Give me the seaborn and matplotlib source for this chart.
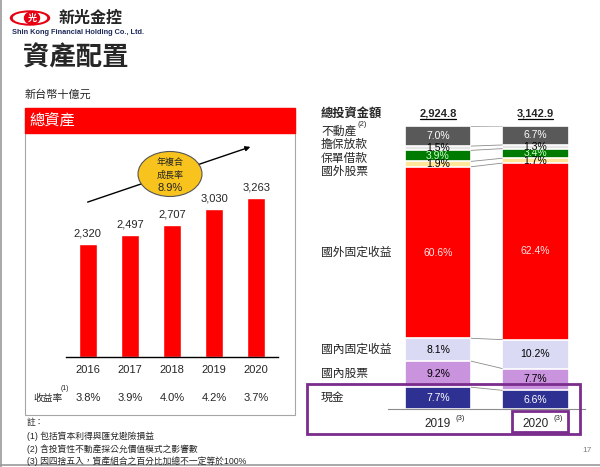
import matplotlib
matplotlib.use("Agg")
import matplotlib.pyplot as plt
import matplotlib.transforms as mtrans
from matplotlib.patches import Rectangle, Ellipse, FancyArrowPatch
from matplotlib.lines import Line2D
import numpy as np
import seaborn as sns

# total assets (NT$ bn)
years = ['2016', '2017', '2018', '2019', '2020']
total_assets = [2320, 2497, 2707, 3030, 3263]
yields = [3.8, 3.9, 4.0, 4.2, 3.7]
cagr = 8.9

# asset allocation, bottom to top
alloc_years = ['2019', '2020']
invest_totals = [2924.8, 3142.9]
categories = ['現金', '國內股票', '國內固定收益', '國外固定收益', '國外股票', '保單借款', '擔保放款', '不動產']
alloc_2019 = [7.7, 9.2, 8.1, 60.6, 1.9, 3.9, 1.5, 7.0]
alloc_2020 = [6.6, 7.7, 10.2, 62.4, 1.7, 3.4, 1.3, 6.7]
seg_colors = ['#2e3192', '#c993de', '#dadaf4', '#ff0000', '#ffe699', '#007a00', '#e6e6e6', '#595959']
txt_colors = ['white', 'black', 'black', '#ffe4e4', 'black', '#ccffcc', 'black', 'white']

sns.set_style('white')
plt.rcParams['font.family'] = ['Liberation Sans', 'Noto Sans CJK TC']

fig = plt.figure(figsize=(6, 4.67), dpi=100)
W, H = 600, 467
fx = lambda x: x / W
fy = lambda y: 1 - y / H

# slide frame
fig.add_artist(Line2D([fx(1), fx(1)], [0, 1], color='#9a9a9a', lw=1.2))
fig.add_artist(Line2D([0, 1], [fy(465), fy(465)], color='#9a9a9a', lw=1.2))

# logo
fig.add_artist(Ellipse((fx(30), fy(18)), 39 / W, 14 / H, color='#e60012'))
fig.add_artist(Ellipse((fx(30), fy(18)), 33 / W, 10 / H, color='white'))
fig.add_artist(Ellipse((fx(32), fy(18)), 15 / W, 12 / H, color='#e60012'))
fig.text(fx(32), fy(18), '光', color='white', fontsize=6.5, fontweight='bold', ha='center', va='center')
fig.text(fx(59), fy(18), '新光金控', fontsize=11.5, fontweight='bold', ha='left', va='center')
fig.text(fx(12), fy(33), 'Shin Kong Financial Holding Co., Ltd.', fontsize=5.3, fontweight='bold',
         color='#1f2a5a', ha='left', va='center')

fig.text(fx(23), fy(58), '資產配置', fontsize=19, fontweight='bold', ha='left', va='center')
fig.text(fx(25), fy(95), '新台幣十億元', fontsize=8, ha='left', va='center')

# left panel
fig.add_artist(Rectangle((fx(25), fy(415)), 270 / W, 307 / H, fill=False, edgecolor='#a6a6a6', lw=0.8))
fig.add_artist(Rectangle((fx(25), fy(133)), 270 / W, 25 / H, color='#ff0000'))
fig.text(fx(29), fy(121), '總資產', color='white', fontsize=11, ha='left', va='center')

ax1 = fig.add_axes([fx(66), fy(357), (278 - 66) / W, (357 - 140) / H])
sns.barplot(x=years, y=total_assets, color='#ff0000', width=0.43, saturation=1, ax=ax1)
ax1.set_ylim(0, 217 / (159 / 3263))
ax1.set_xlim(-0.52, 4.52)
ax1.bar_label(ax1.containers[0], labels=[f'{v:,}' for v in total_assets], fontsize=8, padding=4)
for s in ['top', 'left', 'right']:
    ax1.spines[s].set_visible(False)
ax1.spines['bottom'].set_color('black')
ax1.spines['bottom'].set_linewidth(1)
ax1.set_yticks([])
ax1.set_xlabel('')
ax1.set_ylabel('')
ax1.tick_params(axis='x', length=0, pad=6, labelsize=8)
ax1.patch.set_alpha(0)

tr1 = mtrans.blended_transform_factory(ax1.transData, fig.transFigure)
fig.text(fx(33), fy(398), '收益率', fontsize=7, ha='left', va='center')
fig.text(fx(61), fy(389), '(1)', fontsize=5, ha='left', va='center')
for i, v in enumerate(yields):
    ax1.text(i, fy(398), f'{v:.1f}%', transform=tr1, fontsize=8, ha='center', va='center')

# growth arrow and CAGR bubble
fig.add_artist(FancyArrowPatch((fx(85), fy(203)), (fx(253), fy(146)), arrowstyle='-|>',
                               mutation_scale=7, color='black', lw=1))
fig.add_artist(Ellipse((fx(170), fy(174)), 64 / W, 45 / H, facecolor='#f7c31c', edgecolor='#555555', lw=0.8))
fig.text(fx(170), fy(162), '年複合', fontsize=6.5, ha='center', va='center')
fig.text(fx(170), fy(175), '成長率', fontsize=6.5, ha='center', va='center')
fig.text(fx(170), fy(188), f'{cagr}%', fontsize=8, ha='center', va='center')

# footnotes
fig.text(fx(27), fy(422), '註：', fontsize=6.3, ha='left', va='center')
fig.text(fx(27), fy(436), '(1) 包括資本利得與匯兌避險損益', fontsize=6.3, ha='left', va='center')
fig.text(fx(27), fy(449), '(2) 含投資性不動產採公允價值模式之影響數', fontsize=6.3, ha='left', va='center')
fig.text(fx(27), fy(461), '(3) 因四捨五入，資產組合之百分比加總不一定等於100%', fontsize=6.3, ha='left', va='center')
fig.text(fx(587), fy(451), '17', fontsize=6, color='#808080', ha='center', va='center')

# right panel: stacked allocation bars
ax2 = fig.add_axes([fx(388), fy(409), (585 - 388) / W, 283 / H])
bw = 0.68
cum19 = np.cumsum(alloc_2019)
cum20 = np.cumsum(alloc_2020)
for k in range(len(categories) - 1, -1, -1):
    sns.barplot(x=alloc_years, y=[cum19[k], cum20[k]], color=seg_colors[k], saturation=1,
                width=bw, edgecolor='white', linewidth=1.2, ax=ax2)
for k in range(len(categories)):
    for i, (c, a) in enumerate([(cum19, alloc_2019), (cum20, alloc_2020)]):
        t = ax2.text(i, c[k] - a[k] / 2, f'{a[k]:.1f}%', color=txt_colors[k], fontsize=7.5,
                     ha='center', va='center')
        # thin segments cut their label, as in the slide
        clip = Rectangle((i - bw / 2, c[k] - a[k]), bw, a[k], transform=ax2.transData)
        t.set_clip_path(clip)
    ax2.plot([bw / 2, 1 - bw / 2], [cum19[k], cum20[k]], color='#8c8c8c', lw=0.6)
ax2.set_xlim(-0.513, 1.508)
ax2.set_ylim(0, 100)
for s in ['top', 'left', 'right']:
    ax2.spines[s].set_visible(False)
ax2.spines['bottom'].set_color('#8c8c8c')
ax2.spines['bottom'].set_linewidth(0.8)
ax2.set_xticks([])
ax2.set_yticks([])
ax2.set_xlabel('')
ax2.set_ylabel('')
ax2.patch.set_alpha(0)

tr2 = mtrans.blended_transform_factory(ax2.transData, fig.transFigure)
fig.text(fx(321), fy(114), '總投資金額', fontsize=8.8, fontweight='bold', ha='left', va='center')
for i, t in enumerate(invest_totals):
    ax2.text(i, fy(113), f'{t:,.1f}', transform=tr2, fontsize=8, fontweight='bold', ha='center', va='center')
    ax2.plot([i - 0.18, i + 0.18], [fy(119), fy(119)], transform=tr2, color='black', lw=0.9, clip_on=False)
    ax2.text(i, fy(424), alloc_years[i], transform=tr2, fontsize=8.5, ha='center', va='center')
    ax2.text(i + 0.23, fy(418), '(3)', transform=tr2, fontsize=5.5, ha='center', va='center')

# category labels
tr2y = mtrans.blended_transform_factory(fig.transFigure, ax2.transData)
for k in range(4):
    ax2.text(fx(321), cum19[k] - alloc_2019[k] / 2, categories[k], transform=tr2y,
             fontsize=8.5, ha='left', va='center')
for k, ypx in zip(range(4, 8), [172, 159, 145, 132]):
    fig.text(fx(321), fy(ypx), categories[k], fontsize=8.5, ha='left', va='center')
fig.text(fx(357), fy(125), '(2)', fontsize=5.5, ha='left', va='center')

# highlight frames
fig.add_artist(Rectangle((fx(307), fy(434)), 273 / W, 50 / H, fill=False, edgecolor='#7a2d8c', lw=2))
fig.add_artist(Rectangle((fx(512), fy(432)), 56 / W, 21 / H, fill=False, edgecolor='#7a2d8c', lw=2))

fig.savefig('out.png', dpi=100)
